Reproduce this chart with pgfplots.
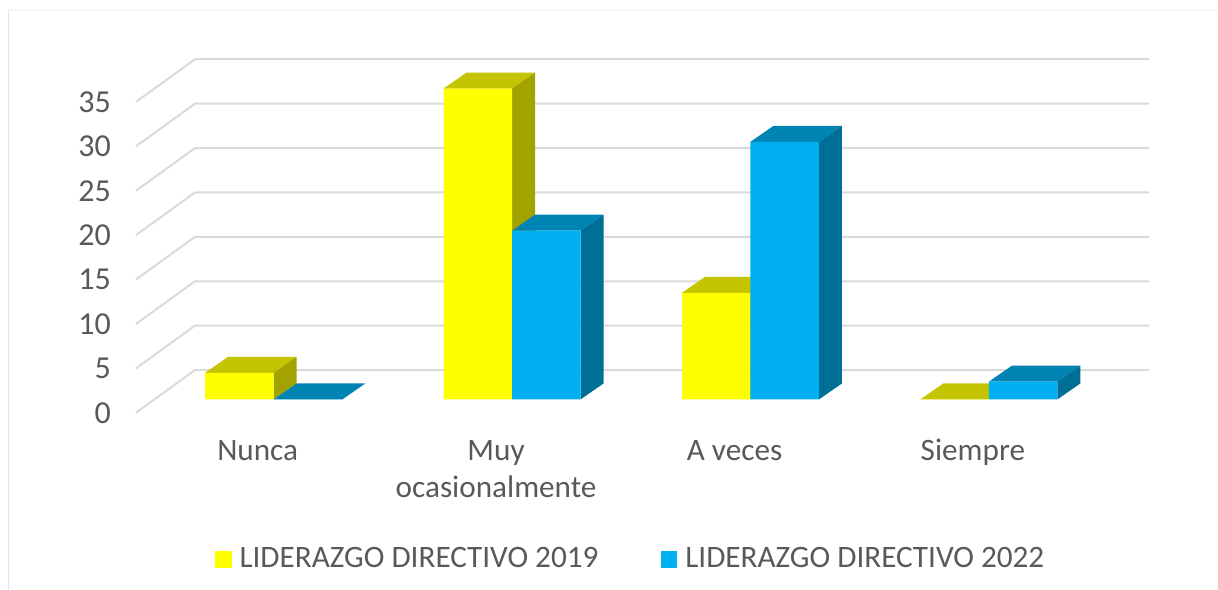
\documentclass[border=0pt]{standalone}
\usepackage{fontspec}
\setmainfont{Carlito}
\usepackage{pgfplots}
\pgfplotsset{compat=1.18}
\definecolor{txt}{HTML}{595959}
\definecolor{gridc}{HTML}{DADADA}
\definecolor{frameL}{HTML}{DDE8F3}
\definecolor{frameT}{HTML}{F3F6FA}
\definecolor{yfront}{HTML}{FFFF00}
\definecolor{ytop}{HTML}{C4C400}
\definecolor{yside}{HTML}{A3A300}
\definecolor{bfront}{HTML}{00B0F0}
\definecolor{btop}{HTML}{0084B4}
\definecolor{bside}{HTML}{006F96}
% top and side face of one bar: left x, right x, value, colours
\newcommand{\barfaces}[5]{%
  \pgfmathsetmacro\xl{#1+0.0965}%
  \pgfmathsetmacro\xr{#2+0.0965}%
  \pgfmathsetmacro\vb{#3+1.8}%
  \pgfmathsetmacro\zb{1.8}%
  \addplot[fill=#4,draw=none,forget plot] coordinates {(#1,#3) (\xl,\vb) (\xr,\vb) (#2,#3)} --cycle;
  \addplot[fill=#5,draw=none,forget plot] coordinates {(#2,0) (\xr,\zb) (\xr,\vb) (#2,#3)} --cycle;
}
\newcommand{\wall}[2]{%
  \addplot[gridc,line width=1pt,forget plot] coordinates {(-0.578,#1) (-0.330,#2) (3.672,#2)};
}
\begin{document}
\begin{tikzpicture}
\begin{axis}[
  scale only axis,width=609pt,height=295pt,
  xmin=-1.148,xmax=3.961,ymin=-21.46,ymax=44.97,
  axis line style={draw=none},
  tick style={draw=none},
  font=\fontsize{15.6}{18.5}\selectfont,
  every tick label/.append style={text=txt},
  xtick={0,1,2,3},
  xticklabels={\strut Nunca,{\strut Muy\\ocasionalmente},\strut A veces,\strut Siempre},
  xticklabel style={align=center,anchor=north,xshift=-8pt,yshift=81pt},
  ytick={-1.51,3.49,8.49,13.49,18.49,23.49,28.49,33.49},
  yticklabels={0,5,10,15,20,25,30,35},
  yticklabel style={anchor=east,xshift=59pt,font=\fontsize{16}{18.5}\selectfont},
  legend style={at={(0.5185,0.052)},anchor=center,draw=none,fill=none,
    legend columns=2,text=txt,inner sep=0pt,
    /tikz/every odd column/.append style={column sep=2pt},
    /tikz/every even column/.append style={column sep=29pt}},
  legend cell align=left,
]
% faint frame of the pasted image
\addplot[frameL,line width=0.6pt,forget plot] coordinates {(-1.114,-21.46) (-1.114,43.85)};
\addplot[frameT,line width=0.6pt,forget plot] coordinates {(-1.114,43.85) (3.961,43.85)};
% walls
\wall{-1.51}{3.30}
\wall{3.49}{8.30}
\wall{8.49}{13.30}
\wall{13.49}{18.30}
\wall{18.49}{23.30}
\wall{23.49}{28.30}
\wall{28.49}{33.30}
\wall{33.49}{38.30}
% 2019
\barfaces{-0.2873}{0}{3}{ytop}{yside}
\barfaces{0.7127}{1}{35}{ytop}{yside}
\barfaces{1.7127}{2}{12}{ytop}{yside}
\barfaces{2.7127}{3}{0}{ytop}{yside}
\addplot[ybar,bar width=0.2873,bar shift=-0.14365,fill=yfront,draw=none,
  legend image code/.code={\fill[yfront] (0pt,-4.2pt) rectangle (8.4pt,4.2pt);}]
  coordinates {(0,3) (1,35) (2,12) (3,0)};
\addlegendentry{LIDERAZGO DIRECTIVO 2019}
% 2022
\barfaces{0}{0.2873}{0}{btop}{bside}
\barfaces{1}{1.2873}{19}{btop}{bside}
\barfaces{2}{2.2873}{29}{btop}{bside}
\barfaces{3}{3.2873}{2}{btop}{bside}
\addplot[ybar,bar width=0.2873,bar shift=0.14365,fill=bfront,draw=none,
  legend image code/.code={\fill[bfront] (0pt,-4.2pt) rectangle (8.4pt,4.2pt);}]
  coordinates {(0,0) (1,19) (2,29) (3,2)};
\addlegendentry{LIDERAZGO DIRECTIVO 2022}
\end{axis}
\end{tikzpicture}
\end{document}
